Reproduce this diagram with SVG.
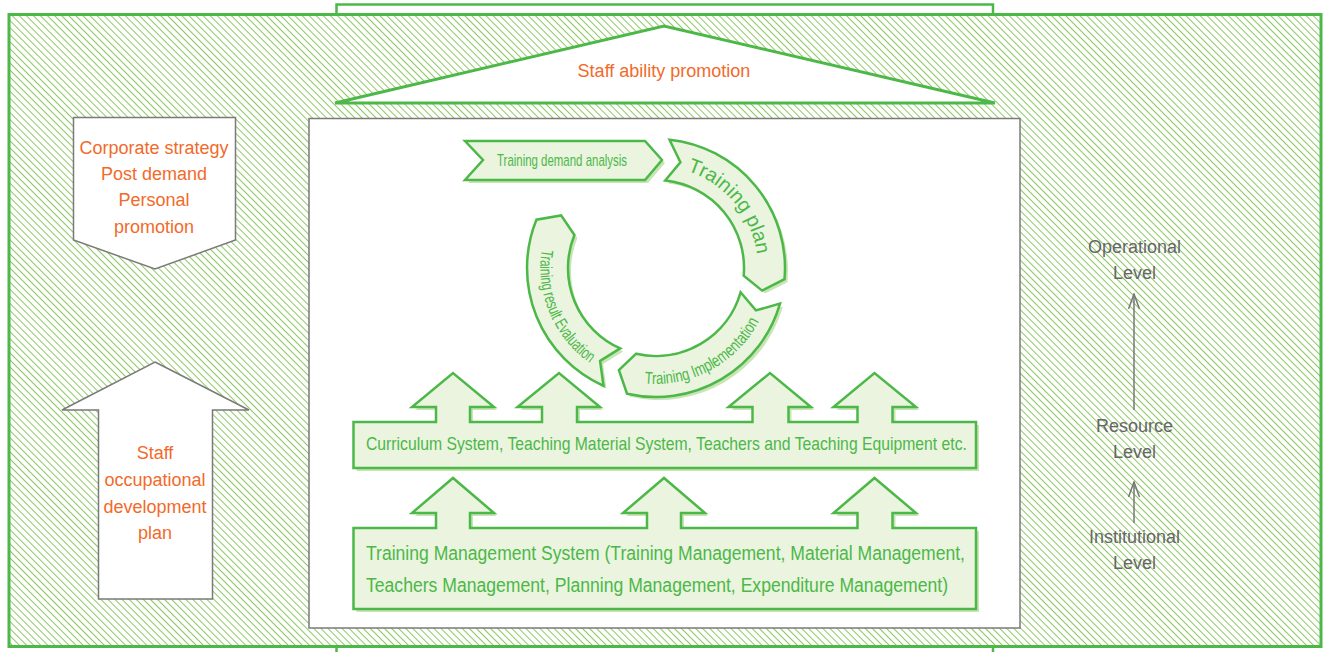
<svg xmlns="http://www.w3.org/2000/svg" width="1328" height="652" viewBox="0 0 1328 652">
<defs>
<style>
.frame{fill:none;stroke:#4cb848;stroke-width:3}
.gbox{fill:#eaf4df;stroke:#4cb848;stroke-width:2.5;stroke-linejoin:miter}
.shadow{fill:#c9e4b6}
.wbox{fill:#ffffff;stroke:#7a7a7a;stroke-width:1.5}
.ot{font-family:"Liberation Sans",Arial,sans-serif;font-size:18px;fill:#f26a2a;text-anchor:middle}
.gt{font-family:"Liberation Sans",Arial,sans-serif;fill:#4cb848}
.lt{font-family:"Liberation Sans",Arial,sans-serif;font-size:18px;fill:#666666;text-anchor:middle}
.conn{fill:none;stroke:#777777;stroke-width:1.5}
</style>
<pattern id="hatch" patternUnits="userSpaceOnUse" width="5" height="5" patternTransform="rotate(-45)">
<line x1="2.5" y1="-1" x2="2.5" y2="6" stroke="#8cc860" stroke-width="1"/>
</pattern>
<marker id="openHead" markerUnits="userSpaceOnUse" markerWidth="16" markerHeight="14" refX="15" refY="6" orient="auto">
<path d="M0,0.5 L15,6 L0,11.5" fill="none" stroke="#777777" stroke-width="1.5"/>
</marker>
<path id="arcPlan" d="M593.2,187.6 A102,102 0 0 1 724.2,343.8"/>
<path id="arcImpl" d="M554.7,326.5 A117,117 0 0 0 760.2,214.9"/>
<path id="arcEval" d="M607,162.9 A116,116 0 0 0 697.6,376.3"/>
</defs>

<g id="background">
<rect x="336.5" y="4.5" width="656.5" height="20" fill="#ffffff" stroke="#4cb848" stroke-width="2.5"/>
<rect x="336.5" y="640" width="656.5" height="30" fill="#ffffff" stroke="#4cb848" stroke-width="2.5"/>
<rect x="9" y="14.5" width="1312" height="632" fill="#ffffff"/>
<rect x="9" y="14.5" width="1312" height="632" fill="url(#hatch)"/>
<rect x="9" y="14.5" width="1312" height="632" class="frame"/>
</g>

<g id="staff-ability-promotion">
<path d="M335,103 L664,26 L995,103 Z" fill="#ffffff" stroke="#4cb848" stroke-width="3" stroke-linejoin="miter"/>
<text class="ot" x="664" y="77">Staff ability promotion</text>
</g>

<g id="inner-panel">
<rect x="309" y="118.5" width="711" height="509.5" class="wbox"/>
</g>

<g id="corporate-strategy">
<path d="M73.5,117.5 H235.5 V240 L155,269 L73.5,240 Z" class="wbox"/>
<text class="ot" x="154" y="154">Corporate strategy</text>
<text class="ot" x="154" y="180">Post demand</text>
<text class="ot" x="154" y="206">Personal</text>
<text class="ot" x="154" y="233">promotion</text>
</g>

<g id="staff-development-plan">
<path d="M155,362 L249,410 H212.5 V599 H98.5 V410 H62 Z" class="wbox"/>
<text class="ot" x="155" y="459">Staff</text>
<text class="ot" x="155" y="486">occupational</text>
<text class="ot" x="155" y="513">development</text>
<text class="ot" x="155" y="539">plan</text>
</g>

<g id="training-demand-analysis">
<path d="M468,144 H648 L665,163 L648,183 H468 L486,163 Z" class="shadow"/>
<path d="M465,141 H645 L662,160 L645,180 H465 L483,160 Z" class="gbox"/>
<text class="gt" x="497" y="166" font-size="17" textLength="130" lengthAdjust="spacingAndGlyphs">Training demand analysis</text>
</g>

<g id="training-plan">
<path d="M669.5,139.7 A129,129 0 0 1 784.5,279.2 L762.1,290.6 L743.7,275.7 A88,88 0 0 0 665.2,180.5 L680.4,162.3 Z" class="shadow" transform="translate(3,3)"/>
<path d="M669.5,139.7 A129,129 0 0 1 784.5,279.2 L762.1,290.6 L743.7,275.7 A88,88 0 0 0 665.2,180.5 L680.4,162.3 Z" class="gbox"/>
<text class="gt" font-size="20"><textPath href="#arcPlan" startOffset="50%" text-anchor="middle">Training plan</textPath></text>
</g>

<g id="training-implementation">
<path d="M780,303.6 A129,129 0 0 1 627,393.7 L618.9,370 L636.2,353.7 A88,88 0 0 0 740.6,292.3 L755.9,310.4 Z" class="shadow" transform="translate(3,3)"/>
<path d="M780,303.6 A129,129 0 0 1 627,393.7 L618.9,370 L636.2,353.7 A88,88 0 0 0 740.6,292.3 L755.9,310.4 Z" class="gbox"/>
<text class="gt" font-size="17"><textPath href="#arcImpl" startOffset="50%" text-anchor="middle" textLength="138" lengthAdjust="spacingAndGlyphs">Training Implementation</textPath></text>
</g>

<g id="training-result-evaluation">
<path d="M603.5,385.8 A129,129 0 0 1 536.4,219.7 L561.1,215.4 L574.4,235 A88,88 0 0 0 620.2,348.4 L600.1,361 Z" class="shadow" transform="translate(3,3)"/>
<path d="M603.5,385.8 A129,129 0 0 1 536.4,219.7 L561.1,215.4 L574.4,235 A88,88 0 0 0 620.2,348.4 L600.1,361 Z" class="gbox"/>
<text class="gt" font-size="17"><textPath href="#arcEval" startOffset="50%" text-anchor="middle" textLength="130" lengthAdjust="spacingAndGlyphs">Training result Evaluation</textPath></text>
</g>

<g id="resource-system">
<path d="M353.5,422 H436 V407 H412 L453,373 L494,407 H470 V422 H542 V407 H517.5 L559,373 L600,407 H577 V422 H752.5 V407 H728.5 L770,373 L811,407 H788.5 V422 H857.5 V407 H833.5 L874.5,373 L916,407 H892.5 V422 H976 V468 H353.5 Z" class="shadow" transform="translate(3,3)"/>
<path d="M353.5,422 H436 V407 H412 L453,373 L494,407 H470 V422 H542 V407 H517.5 L559,373 L600,407 H577 V422 H752.5 V407 H728.5 L770,373 L811,407 H788.5 V422 H857.5 V407 H833.5 L874.5,373 L916,407 H892.5 V422 H976 V468 H353.5 Z" class="gbox"/>
<text class="gt" x="366" y="450" font-size="19" textLength="601" lengthAdjust="spacingAndGlyphs">Curriculum System, Teaching Material System, Teachers and Teaching Equipment etc.</text>
</g>

<g id="training-management-system">
<path d="M353.5,528 H436 V513 H412 L453,478 L494,513 H470 V528 H647 V513 H623 L664,478 L705,513 H681 V528 H857.5 V513 H833.5 L874.5,478 L916,513 H892.5 V528 H976 V609 H353.5 Z" class="shadow" transform="translate(3,3)"/>
<path d="M353.5,528 H436 V513 H412 L453,478 L494,513 H470 V528 H647 V513 H623 L664,478 L705,513 H681 V528 H857.5 V513 H833.5 L874.5,478 L916,513 H892.5 V528 H976 V609 H353.5 Z" class="gbox"/>
<text class="gt" x="366" y="560" font-size="20" textLength="599" lengthAdjust="spacingAndGlyphs">Training Management System (Training Management, Material Management,</text>
<text class="gt" x="366" y="592" font-size="20" textLength="582" lengthAdjust="spacingAndGlyphs">Teachers Management, Planning Management, Expenditure Management)</text>
</g>

<g id="operational-level">
<text class="lt" x="1134.5" y="253">Operational</text>
<text class="lt" x="1134.5" y="279">Level</text>
</g>
<g id="resource-level">
<text class="lt" x="1134.5" y="432">Resource</text>
<text class="lt" x="1134.5" y="458">Level</text>
</g>
<g id="institutional-level">
<text class="lt" x="1134.5" y="543">Institutional</text>
<text class="lt" x="1134.5" y="569">Level</text>
</g>

<g id="connectors">
<line x1="1134" y1="410" x2="1134" y2="294" class="conn" marker-end="url(#openHead)"/>
<line x1="1134" y1="523" x2="1134" y2="482" class="conn" marker-end="url(#openHead)"/>
</g>
</svg>
